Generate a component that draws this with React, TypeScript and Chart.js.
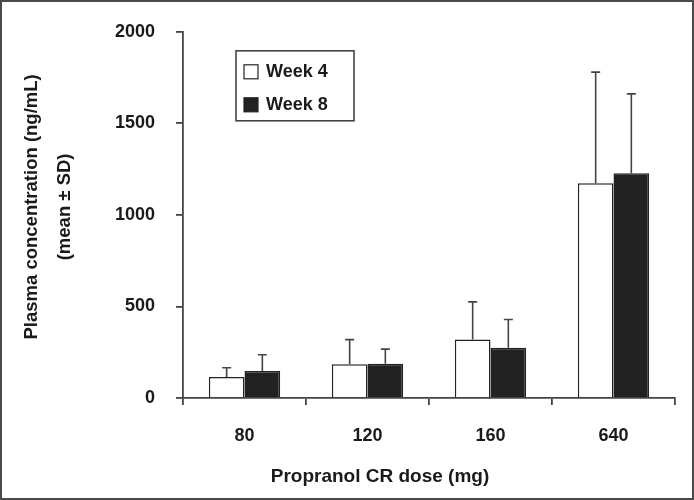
import React, { useEffect, useRef } from 'react';
import { Chart, registerables } from 'chart.js';

Chart.register(...registerables);

const categories = ['80', '120', '160', '640'];
const week4Mean = [115, 185, 319, 1173];
const week4SD = [50, 134, 206, 607];
const week8Mean = [147, 187, 275, 1228];
const week8SD = [89, 80, 154, 433];
const yTicks = [0, 500, 1000, 1500, 2000];
const seriesLabels = ['Week 4', 'Week 8'];
const xTitle = 'Propranol CR dose (mg)';
const yTitle = ['Plasma concentration (ng/mL)', '(mean \u00b1 SD)'];

const FONT = "'Liberation Sans', Arial, Helvetica, sans-serif";
const AXIS = '#444444';
const TEXT = '#1a1a1a';
const sdSets = [week4SD, week8SD];

const errorBarPlugin = {
  id: 'errorBars',
  afterDatasetsDraw(chart: any) {
    const ctx = chart.ctx;
    const yScale = chart.scales.y;
    chart.data.datasets.forEach((ds: any, i: number) => {
      const meta = chart.getDatasetMeta(i);
      const sds = sdSets[i];
      meta.data.forEach((bar: any, j: number) => {
        const top = yScale.getPixelForValue(ds.data[j] + sds[j]);
        const x = bar.x;
        const y = bar.y;
        ctx.save();
        ctx.strokeStyle = AXIS;
        ctx.lineWidth = 1.6;
        ctx.beginPath();
        ctx.moveTo(x, y);
        ctx.lineTo(x, top);
        ctx.moveTo(x - 4.5, top);
        ctx.lineTo(x + 4.5, top);
        ctx.stroke();
        ctx.restore();
      });
    });
  },
};

const boxLegendPlugin = {
  id: 'boxLegend',
  afterDraw(chart: any) {
    const { ctx, chartArea } = chart;
    const bx = chartArea.left + 53;
    const by = chartArea.top + 19;
    const bw = 118;
    const bh = 70;
    ctx.save();
    ctx.fillStyle = '#ffffff';
    ctx.fillRect(bx, by, bw, bh);
    ctx.strokeStyle = AXIS;
    ctx.lineWidth = 1.6;
    ctx.strokeRect(bx, by, bw, bh);
    chart.data.datasets.forEach((ds: any, i: number) => {
      const cy = by + 21 + i * 33;
      ctx.fillStyle = ds.backgroundColor;
      ctx.fillRect(bx + 8, cy - 7, 14, 14);
      ctx.strokeStyle = '#222222';
      ctx.lineWidth = 1.2;
      ctx.strokeRect(bx + 8, cy - 7, 14, 14);
      ctx.fillStyle = TEXT;
      ctx.font = `bold 18px ${FONT}`;
      ctx.textBaseline = 'middle';
      ctx.textAlign = 'left';
      ctx.fillText(ds.label, bx + 30, cy);
    });
    ctx.restore();
  },
};

const titlesPlugin = {
  id: 'axisTitles',
  afterDraw(chart: any) {
    const { ctx, chartArea } = chart;
    ctx.save();
    ctx.fillStyle = TEXT;
    ctx.textAlign = 'center';
    ctx.textBaseline = 'middle';
    ctx.font = `bold 19px ${FONT}`;
    ctx.fillText(xTitle, (chartArea.left + chartArea.right) / 2 - 49, chart.height - 23);
    ctx.font = `bold 18.5px ${FONT}`;
    const cy = (chartArea.top + chartArea.bottom) / 2 - 8;
    yTitle.forEach((line, i) => {
      ctx.save();
      ctx.translate(32 + i * 33, cy);
      ctx.rotate(-Math.PI / 2);
      ctx.fillText(line, 0, 0);
      ctx.restore();
    });
    ctx.restore();
  },
};

const framePlugin = {
  id: 'frame',
  afterDraw(chart: any) {
    const ctx = chart.ctx;
    ctx.save();
    ctx.strokeStyle = '#4a4a4a';
    ctx.lineWidth = 2;
    ctx.strokeRect(1, 1, chart.width - 2, chart.height - 2);
    ctx.restore();
  },
};

export default function App() {
  const ref = useRef<HTMLCanvasElement | null>(null);

  useEffect(() => {
    if (!ref.current) return;
    Chart.defaults.font.family = FONT;
    const chart = new Chart(ref.current, {
      type: 'bar',
      data: {
        labels: categories,
        datasets: [
          {
            label: seriesLabels[0],
            data: week4Mean,
            backgroundColor: '#ffffff',
            borderColor: '#222222',
            borderWidth: 1.5,
            barPercentage: 1.0,
            categoryPercentage: 0.58,
          },
          {
            label: seriesLabels[1],
            data: week8Mean,
            backgroundColor: '#222222',
            borderColor: '#222222',
            borderWidth: 1.5,
            barPercentage: 1.0,
            categoryPercentage: 0.58,
          },
        ],
      },
      options: {
        responsive: false,
        animation: false,
        events: [],
        layout: { padding: { left: 0, right: 19, top: 29, bottom: 0 } },
        plugins: {
          legend: { display: false },
          tooltip: { enabled: false },
        },
        scales: {
          x: {
            grid: {
              offset: true,
              drawOnChartArea: false,
              drawTicks: true,
              tickLength: 7,
              color: AXIS,
              lineWidth: 1.8,
            },
            border: { display: true, color: AXIS, width: 1.8 },
            ticks: {
              color: TEXT,
              font: { size: 18, weight: 'bold' },
              padding: 20,
            },
            title: { display: false },
            afterFit: (s: any) => {
              s.height = 102;
            },
          },
          y: {
            min: 0,
            max: 2000,
            afterBuildTicks: (s: any) => {
              s.ticks = yTicks.map((v) => ({ value: v }));
            },
            grid: {
              drawOnChartArea: false,
              drawTicks: true,
              tickLength: 7,
              color: AXIS,
              lineWidth: 1.8,
            },
            border: { display: true, color: AXIS, width: 1.8 },
            ticks: {
              color: TEXT,
              font: { size: 18, weight: 'bold' },
              padding: 21,
              callback: (v: any) => String(v),
            },
            title: { display: false },
            afterFit: (s: any) => {
              s.width = 183;
            },
          },
        },
      },
      plugins: [errorBarPlugin, boxLegendPlugin, titlesPlugin, framePlugin],
    } as any);
    return () => chart.destroy();
  }, []);

  return (
    <div style={{ position: 'absolute', left: 0, top: 0, width: 694, height: 500, background: '#ffffff' }}>
      <canvas ref={ref} width={694} height={500} style={{ display: 'block' }} />
    </div>
  );
}
